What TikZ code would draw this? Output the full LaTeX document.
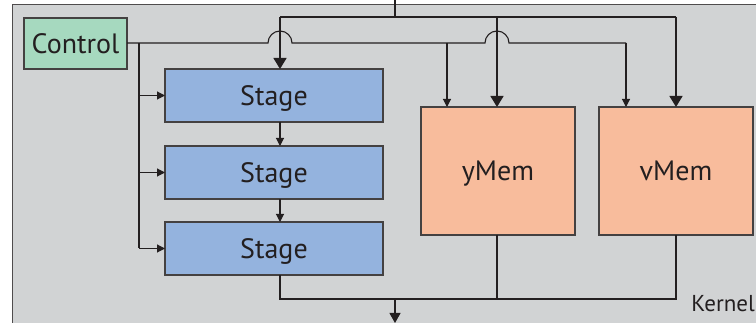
\documentclass[tikz,border=0pt]{standalone}
\usepackage{fontspec}
\setmainfont{PT Sans}
\usetikzlibrary{arrows.meta}
\definecolor{bggray}{HTML}{D1D3D4}
\definecolor{ctrlgreen}{HTML}{A6D9BF}
\definecolor{stageblue}{HTML}{94B3DE}
\definecolor{memsalmon}{HTML}{F8BC9C}
\definecolor{ink}{HTML}{231F20}
\tikzset{
  box/.style={draw=ink!85, line width=1.3pt, anchor=north west, inner sep=0pt, outer sep=0pt, text=ink, font=\fontsize{28}{30}\selectfont, text height=20pt, text depth=0pt},
  bus/.style={draw=ink, line width=1.5pt},
  busarrow/.style={bus, -{Triangle[width=13pt,length=11pt]}},
  sig/.style={draw=ink, line width=1.1pt},
  sigarrow/.style={sig, -{Triangle[width=8pt,length=8pt]}},
}
\begin{document}
\begin{tikzpicture}[x=1pt,y=-1pt]
\useasboundingbox (0,0) rectangle (756,323);
\fill[bggray] (12,5) rectangle (760,330);
\draw[draw=ink!80, line width=1pt] (12,330) -- (12,5) -- (760,5);

\node[box, fill=ctrlgreen, minimum width=103pt, minimum height=51pt] (ctrl) at (24,18) {Control};
\node[box, fill=stageblue, minimum width=218pt, minimum height=53pt] (s1) at (165,69) {Stage};
\node[box, fill=stageblue, minimum width=218pt, minimum height=53pt] (s2) at (165,146) {Stage};
\node[box, fill=stageblue, minimum width=218pt, minimum height=53pt] (s3) at (165,222) {Stage};
\node[box, fill=memsalmon, minimum width=154pt, minimum height=128pt] (ym) at (421,107) {yMem};
\node[box, fill=memsalmon, minimum width=154pt, minimum height=128pt] (vm) at (599,107) {vMem};
\node[anchor=base east, inner sep=0pt, text=ink, font=\fontsize{23}{25}\selectfont] (kern) at (755,312) {Kernel};

% top input bus
\coordinate (tin) at (395,0);
\coordinate (tj) at (395,17);
\coordinate (b1) at (280,17);
\coordinate (b2) at (497,17);
\coordinate (b3) at (676,17);
\draw[bus] (tin) -- (tj);
\draw[bus] (b1) -- (b3);
\draw[busarrow] (b1) -- (b1 |- s1.north);
\draw[busarrow] (b2) -- (b2 |- ym.north);
\draw[busarrow] (b3) -- (b3 |- vm.north);

% control line with hops
\coordinate (cv) at (139,43);
\coordinate (c2) at (447,43);
\coordinate (c3) at (626,43);
\draw[sig] (ctrl.east |- cv) -- (268,43) arc[start angle=180,end angle=360,radius=12] -- (485,43) arc[start angle=180,end angle=360,radius=12] -- (c3);
\draw[sigarrow] (c3) -- (c3 |- vm.north);
\draw[sigarrow] (c2) -- (c2 |- ym.north);
\draw[sig] (cv) -- (cv |- s3.west);
\draw[sigarrow] (cv |- s1.west) -- (s1.west);
\draw[sigarrow] (cv |- s2.west) -- (s2.west);
\draw[sigarrow] (cv |- s3.west) -- (s3.west);

% stage chain
\draw[sigarrow] (b1 |- s1.south) -- (b1 |- s2.north);
\draw[sigarrow] (b1 |- s2.south) -- (b1 |- s3.north);

% output bus
\coordinate (o1) at (280,299);
\coordinate (o2) at (497,299);
\coordinate (o3) at (676,299);
\coordinate (oj) at (395,299);
\coordinate (oout) at (395,323);
\draw[sig] (b1 |- s3.south) -- (o1) -- (o3) -- (b3 |- vm.south);
\draw[sig] (b2 |- ym.south) -- (o2);
\draw[sig, -{Triangle[width=11pt,length=10pt]}] (oj) -- (oout);
\end{tikzpicture}
\end{document}
